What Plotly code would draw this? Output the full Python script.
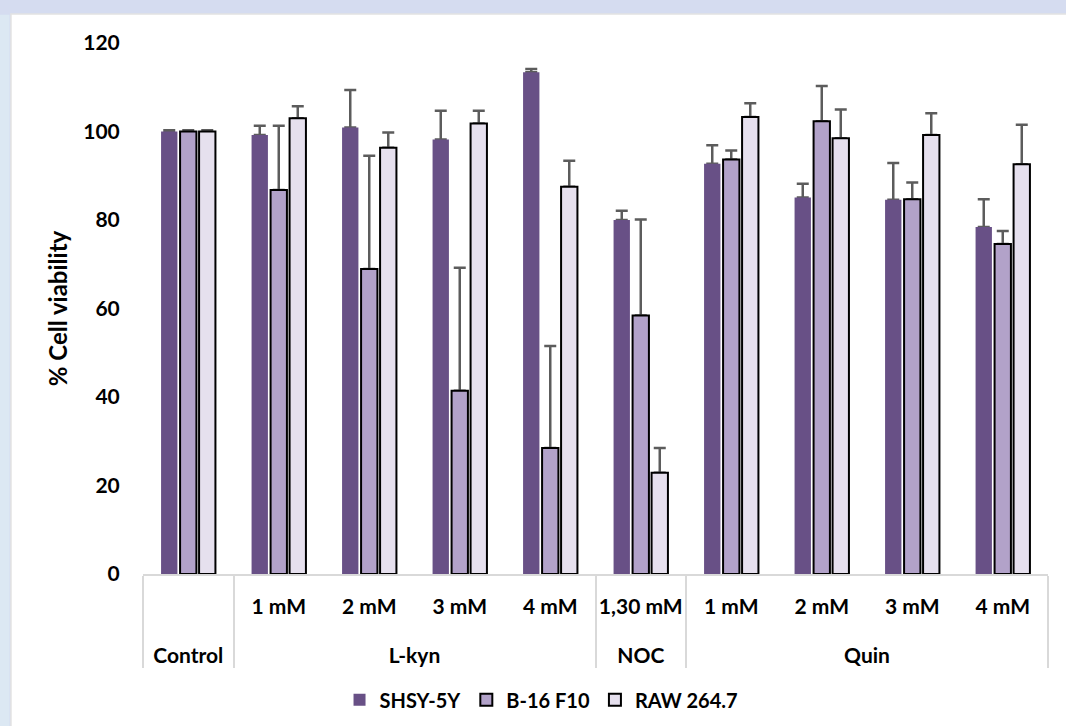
import plotly.graph_objects as go

groups = ["Control", "L-kyn", "L-kyn", "L-kyn", "L-kyn", "NOC", "Quin", "Quin", "Quin", "Quin"]
doses = [" ", "1 mM", "2 mM", "3 mM", "4 mM", "1,30 mM", "1 mM", "2 mM", "3 mM", "4 mM"]

series_names = ["SHSY-5Y", "B-16 F10", "RAW 264.7"]
shsy_vals = [100, 99.2, 100.9, 98.2, 113.4, 80.0, 92.7, 85.1, 84.6, 78.4]
shsy_err = [0.3, 2.1, 8.5, 6.5, 0.7, 2.1, 4.2, 3.1, 8.3, 6.3]
b16_vals = [100, 86.8, 68.9, 41.4, 28.5, 58.4, 93.7, 102.3, 84.7, 74.6]
b16_err = [0.3, 14.5, 25.6, 27.8, 23.0, 21.7, 2.0, 8.0, 3.8, 2.9]
raw_vals = [100, 103.0, 96.3, 101.8, 87.5, 22.9, 103.3, 98.5, 99.2, 92.6]
raw_err = [0.3, 2.7, 3.5, 2.9, 5.9, 5.6, 3.1, 6.5, 4.9, 8.9]

y_ticks = [0, 20, 40, 60, 80, 100, 120]

colors = ["#685086", "#b2a2c9", "#e6e0ee"]
borders = [0, 2, 2]

FONT = "Lato"
# outer group labels get a leading blank line so they sit lower, as in the reference
x = [["<br>" + g for g in groups], doses]

fig = go.Figure()
all_vals = [shsy_vals, b16_vals, raw_vals]
all_errs = [shsy_err, b16_err, raw_err]

# error bars first (drawn underneath the visible bars so only the upper part shows)
for i, (vals, errs) in enumerate(zip(all_vals, all_errs)):
    fig.add_trace(go.Bar(
        x=x, y=vals, offsetgroup=str(i), showlegend=False, hoverinfo="skip",
        marker=dict(color="rgba(0,0,0,0)", line=dict(width=0)),
        error_y=dict(type="data", array=errs, arrayminus=[0] * len(errs), symmetric=False,
                     color="#5c5c5c", thickness=2.5, width=6),
    ))

for i, (name, vals) in enumerate(zip(series_names, all_vals)):
    fig.add_trace(go.Bar(
        x=x, y=vals, name=name, offsetgroup=str(i),
        marker=dict(color=colors[i], line=dict(color="#000000", width=borders[i])),
    ))

fig.update_layout(
    width=1066, height=726, autosize=False,
    margin=dict(l=143, r=18, t=43, b=152),
    paper_bgcolor="#d5dcf0",
    plot_bgcolor="rgba(0,0,0,0)",
    barmode="group", bargap=0.37, bargroupgap=0.14,
    font=dict(family=FONT, size=20, color="#000000", weight="bold"),
    showlegend=True,
    legend=dict(orientation="h", xref="container", yref="container",
                x=0.508, xanchor="center", y=0.036, yanchor="middle",
                font=dict(family=FONT, size=20, color="#000000", weight="bold"),
                bgcolor="rgba(0,0,0,0)", traceorder="normal"),
    shapes=[
        dict(type="rect", xref="paper", yref="paper", x0=-0.1459, x1=1.03, y0=-0.30, y1=1.0546,
             fillcolor="#ffffff", line=dict(color="#e2e2e2", width=1.5), layer="below"),
        dict(type="rect", xref="paper", yref="paper", x0=-0.17, x1=-0.1475, y0=-0.30, y1=1.0530,
             fillcolor="#dce8f3", line=dict(width=0), layer="below"),
    ],
)

fig.update_xaxes(
    type="multicategory", automargin=False, tickangle=0,
    showline=True, linecolor="#d9d9d9", linewidth=1.5,
    showgrid=False, tickson="labels", ticks="outside", ticklen=8, tickcolor="rgba(0,0,0,0)",
    ticklabelstandoff=5,
    showdividers=True, dividercolor="#d9d9d9", dividerwidth=1.5,
    tickfont=dict(family=FONT, size=21, color="#000000", weight="bold"),
)
fig.update_yaxes(
    automargin=False,
    range=[0, 120], tickvals=y_ticks, showgrid=False, zeroline=False, showline=False,
    ticks="outside", ticklen=18, tickcolor="rgba(0,0,0,0)",
    tickfont=dict(family=FONT, size=21, color="#000000", weight="bold"),
    title=dict(text="% Cell viability", standoff=8,
               font=dict(family=FONT, size=24, color="#000000", weight="bold")),
)

fig.write_html("out.html", config={"displayModeBar": False},
               post_script="document.body.style.margin='0';")
